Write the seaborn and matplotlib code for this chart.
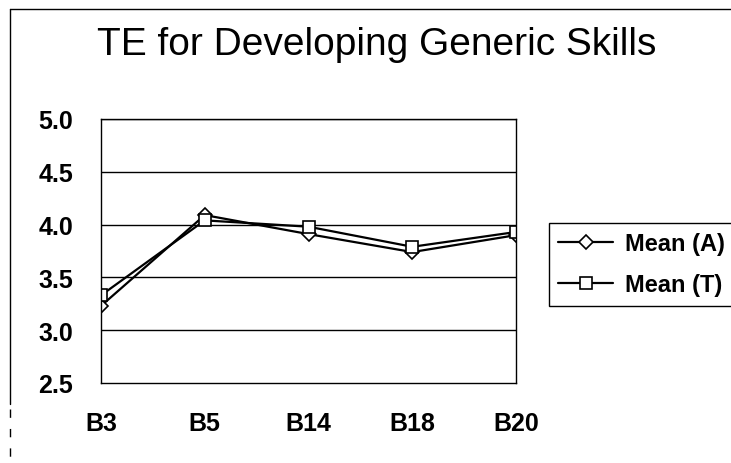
import matplotlib
matplotlib.use("Agg")
import matplotlib.pyplot as plt
from matplotlib.lines import Line2D
import seaborn as sns
import pandas as pd

categories = ["B3", "B5", "B14", "B18", "B20"]
mean_a = [3.23, 4.09, 3.91, 3.74, 3.90]
mean_t = [3.33, 4.04, 3.98, 3.79, 3.93]
series_names = ["Mean (A)", "Mean (T)"]
y_ticks = [2.5, 3.0, 3.5, 4.0, 4.5, 5.0]
y_tick_labels = ["2.5", "3.0", "3.5", "4.0", "4.5", "5.0"]
title = "TE for Developing Generic Skills"

df = pd.DataFrame({
    "cat": categories * 2,
    "value": mean_a + mean_t,
    "series": [series_names[0]] * len(categories) + [series_names[1]] * len(categories),
})

sns.set_theme(style="white")
plt.rcParams["font.family"] = ["Liberation Sans", "DejaVu Sans"]
plt.rcParams["text.color"] = "black"

W, H = 731, 464
fig = plt.figure(figsize=(W / 100, H / 100), dpi=100)
fig.patch.set_facecolor("white")
ax = fig.add_axes([101 / W, 1 - 384 / H, (516 - 101) / W, (384 - 120) / H])

sns.lineplot(
    data=df, x="cat", y="value", hue="series", style="series",
    palette={series_names[0]: "black", series_names[1]: "black"},
    markers={series_names[0]: "D", series_names[1]: "s"},
    dashes=False, sort=False, ax=ax, linewidth=1.6,
    markerfacecolor="white", markeredgecolor="black", markeredgewidth=1.2,
    markersize=8, legend=False,
)
for ln in ax.lines:
    if ln.get_marker() == "D":
        ln.set_markersize(7)

ax.set_xlim(0, len(categories) - 1)
ax.set_ylim(y_ticks[0], y_ticks[-1])
ax.set_yticks(y_ticks)
ax.set_yticklabels(y_tick_labels)
ax.set_xticks(range(len(categories)))
ax.set_xticklabels(categories)
ax.set_xlabel("")
ax.set_ylabel("")
ax.grid(False)
for y in y_ticks[1:]:
    ax.axhline(y, color="black", linewidth=1.0, zorder=0.5)
for s in ax.spines.values():
    s.set_color("black")
    s.set_linewidth(1.0)
    s.set_visible(True)
ax.tick_params(axis="y", length=0, pad=20, labelsize=18, labelcolor="black")
ax.tick_params(axis="x", direction="in", length=4, width=1, color="black",
               pad=20, labelsize=18, labelcolor="black")
for lab in ax.get_xticklabels() + ax.get_yticklabels():
    lab.set_fontweight("bold")

fig.text(377 / W, 1 - 45 / H, title, ha="center", va="center",
         fontsize=28, color="black")

handles = [
    Line2D([], [], color="black", linewidth=1.6, marker="D", markersize=7,
           markerfacecolor="white", markeredgecolor="black", markeredgewidth=1.2),
    Line2D([], [], color="black", linewidth=1.6, marker="s", markersize=8,
           markerfacecolor="white", markeredgecolor="black", markeredgewidth=1.2),
]
leg = fig.legend(handles, series_names, loc="upper left",
                 bbox_to_anchor=(549 / W, 1 - 224 / H),
                 prop={"size": 17, "weight": "bold"}, frameon=True,
                 fancybox=False, framealpha=1, labelcolor="black",
                 edgecolor="black", handlelength=2.3, handletextpad=0.5,
                 borderpad=0.4, labelspacing=0.75, borderaxespad=0)
leg.get_frame().set_linewidth(1.0)

# outer chart border (partial, as in the scan)
fig.add_artist(Line2D([10 / W, 1.0], [1 - 10 / H, 1 - 10 / H],
                      transform=fig.transFigure, color="black", linewidth=1.0))
fig.add_artist(Line2D([10 / W, 10 / W], [1 - 10 / H, 1 - 405 / H],
                      transform=fig.transFigure, color="black", linewidth=1.0))
fig.add_artist(Line2D([10 / W, 10 / W], [1 - 410 / H, 0.0],
                      transform=fig.transFigure, color="black", linewidth=1.0,
                      linestyle=(0, (6, 8))))

fig.savefig("out.png", dpi=100, facecolor="white")
